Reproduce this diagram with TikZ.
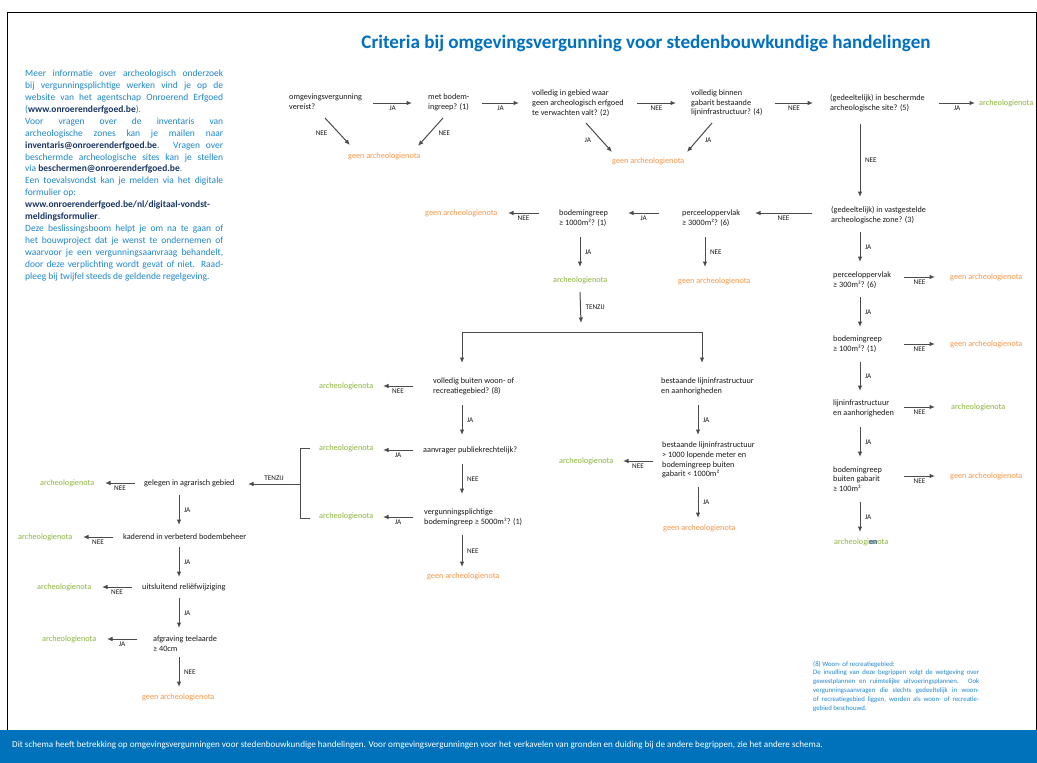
\documentclass[tikz,border=0pt]{standalone}
\usepackage{fontspec}
\setmainfont{Carlito}
\usetikzlibrary{arrows.meta,calc}
\definecolor{txt}{RGB}{25,25,25}
\definecolor{lnc}{RGB}{75,75,75}
\definecolor{blu}{RGB}{0,112,192}
\definecolor{bodyblue}{RGB}{30,135,205}
\definecolor{dkblue}{RGB}{25,55,100}
\definecolor{orng}{RGB}{247,150,70}
\definecolor{grn}{RGB}{140,180,60}
\definecolor{barblue}{RGB}{0,114,188}
\definecolor{hl}{RGB}{150,195,215}
\begin{document}
\begin{tikzpicture}[x=1pt,y=-1pt,
 q/.style={font=\fontsize{8.2}{9.8}\selectfont, align=left, inner sep=0pt, anchor=west, text=txt},
 geen/.style={font=\fontsize{8.2}{9.8}\selectfont, inner sep=0pt, anchor=west, text=orng},
 arch/.style={font=\fontsize{8.2}{9.8}\selectfont, inner sep=0pt, anchor=west, text=grn},
 arr/.style={draw=lnc, line width=1pt, -{Latex[length=5.5pt,width=4.5pt]}},
 ln/.style={draw=lnc, line width=1pt},
 lab/.style={font=\fontsize{7.2}{8}\selectfont, text=txt, inner sep=0pt},
 lb/.style={lab, midway, anchor=north, yshift=-2.5pt},
 lr/.style={lab, midway, anchor=west, xshift=4.5pt},
]
\useasboundingbox (0,0) rectangle (1037,763);
\fill[white] (0,0) rectangle (1037,763);
\draw[black, line width=1pt] (7,12) rectangle (1036.5,731);
\fill[barblue] (0,730) rectangle (1037,763);

% title
\node[font=\fontsize{19.1}{22}\selectfont\bfseries, text=blu, inner sep=0pt] (title) at (646,43) {Criteria bij omgevingsvergunning voor stedenbouwkundige handelingen};

% info text
\node[anchor=north west, inner sep=0pt, text width=198pt, align=justify, text=bodyblue,
 font=\fontsize{9.5}{11.9}\selectfont] (info) at (25,70)
{\hyphenpenalty=10000\relax Meer informatie over archeologisch onderzoek\linebreak bij vergunningsplichtige werken vind je op de\linebreak website van het agentschap Onroerend Erfgoed\linebreak (\textbf{\color{dkblue}www.onroerenderfgoed.be}).\par
Voor vragen over de inventaris van\linebreak archeologische zones kan je mailen naar\linebreak \textbf{\color{dkblue}inventaris@onroerenderfgoed.be}. Vragen over\linebreak beschermde archeologische sites kan je stellen\linebreak via \textbf{\color{dkblue}beschermen@onroerenderfgoed.be}.\par
Een toevalsvondst kan je melden via het digitale\linebreak formulier op:\par
\textbf{\color{dkblue}www.onroerenderfgoed.be/nl/digitaal-vondst-\linebreak meldingsformulier}.\par
Deze beslissingsboom helpt je om na te gaan of\linebreak het bouwproject dat je wenst te ondernemen of\linebreak waarvoor je een vergunningsaanvraag behandelt,\linebreak door deze verplichting wordt gevat of niet. Raad-\linebreak pleeg bij twijfel steeds de geldende regelgeving.};

% footnote
\node[anchor=north west, inner sep=0pt, text width=166pt, align=justify, text=bodyblue,
 font=\fontsize{6.8}{8.8}\selectfont] (note) at (813,661)
{\hyphenpenalty=10000\relax (8) Woon- of recreatiegebied:\par
De invulling van deze begrippen volgt de wetgeving over\linebreak gewestplannen en ruimtelijke uitvoeringsplannen. Ook\linebreak vergunningsaanvragen die slechts gedeeltelijk in woon-\linebreak of recreatiegebied liggen, worden als woon- of recreatie-\linebreak gebied beschouwd.};

% bottom bar text
\node[anchor=west, inner sep=0pt, text=white, font=\fontsize{9.1}{10}\selectfont] (foot) at (12,745)
{Dit schema heeft betrekking op omgevingsvergunningen voor stedenbouwkundige handelingen. Voor omgevingsvergunningen voor het verkavelen van gronden en duiding bij de andere begrippen, zie het andere schema.};

% ---------- nodes ----------
\node[q] (n1) at (289,102) {omgevingsvergunning\\vereist?};
\node[q] (n2) at (428,102) {met bodem-\\ingreep? (1)};
\node[q] (n3) at (532,103) {volledig in gebied waar\\geen archeologisch erfgoed\\te verwachten valt? (2)};
\node[q] (n4) at (691,103) {volledig binnen\\gabarit bestaande\\lijninfrastructuur? (4)};
\node[q] (n5) at (830,103) {(gedeeltelijk) in beschermde\\archeologische site? (5)};
\node[arch] (r1) at (979,103) {archeologienota};
\node[geen] (g1) at (348,156) {geen archeologienota};
\node[geen] (g2) at (612,161) {geen archeologienota};

\node[q] (n7) at (831,215) {(gedeeltelijk) in vastgestelde\\archeologische zone? (3)};
\node[q] (n8) at (682,218) {perceeloppervlak\\≥ 3000m²? (6)};
\node[q] (n9) at (559,218) {bodemingreep\\≥ 1000m²? (1)};
\node[geen] (g3) at (425,213) {geen archeologienota};
\node[arch] (r2) at (553,280) {archeologienota};
\node[geen] (g4) at (678,281) {geen archeologienota};

\node[q] (n10) at (833,280) {perceeloppervlak\\≥ 300m²? (6)};
\node[geen] (g5) at (950,277) {geen archeologienota};
\node[q] (n11) at (833,344) {bodemingreep\\≥ 100m²? (1)};
\node[geen] (g6) at (950,344) {geen archeologienota};
\node[q] (n12) at (833,408) {lijninfrastructuur\\en aanhorigheden};
\node[arch] (r3) at (951,407) {archeologienota};
\node[q] (n13) at (833,479) {bodemingreep\\buiten gabarit\\≥ 100m²};
\node[geen] (g7) at (950,476) {geen archeologienota};
\node[arch] (r4) at (834,542) {archeologi{\setlength\fboxsep{0pt}\colorbox{hl}{\color{black!70}en}}ota};

\node[q] (n14) at (433,386) {volledig buiten woon- of\\recreatiegebied? (8)};
\node[arch] (r5) at (319,386) {archeologienota};
\node[q] (n15) at (423,450) {aanvrager publiekrechtelijk?};
\node[arch] (r6) at (319,448) {archeologienota};
\node[q] (n16) at (424,517) {vergunningsplichtige\\bodemingreep ≥ 5000m²? (1)};
\node[arch] (r7) at (319,516) {archeologienota};
\node[geen] (g8) at (427,576) {geen archeologienota};

\node[q] (n17) at (661,386) {bestaande lijninfrastructuur\\en aanhorigheden};
\node[q] (n18) at (662,460) {bestaande lijninfrastructuur\\> 1000 lopende meter en\\bodemingreep buiten\\gabarit < 1000m²};
\node[arch] (r8) at (559,461) {archeologienota};
\node[geen] (g9) at (663,528) {geen archeologienota};

\node[q] (n19) at (144,483) {gelegen in agrarisch gebied};
\node[arch] (r9) at (40,483) {archeologienota};
\node[q] (n20) at (123,537) {kaderend in verbeterd bodembeheer};
\node[arch] (r10) at (18,537) {archeologienota};
\node[q] (n21) at (142,587) {uitsluitend reliëfwijziging};
\node[arch] (r11) at (37,587) {archeologienota};
\node[q] (n22) at (153,644) {afgraving teelaarde\\≥ 40cm};
\node[arch] (r12) at (42,639) {archeologienota};
\node[geen] (g10) at (142,697) {geen archeologienota};

\coordinate (barL) at (462,332);
\coordinate (barR) at (702,332);

% ---------- connectors ----------
% top row
\draw[arr] ($(n1.west)+(84,1)$) -- ($(n2.west)+(-16,1)$) node[lb]{JA};
\draw[arr] ($(n2.west)+(54,1)$) -- ($(n3.west)+(-13,0)$) node[lb]{JA};
\draw[arr] ($(n3.west)+(105,0)$) -- ($(n4.west)+(-15,0)$) node[lb]{NEE};
\draw[arr] ($(n4.west)+(84,0)$) -- ($(n5.west)+(-17,0)$) node[lb]{NEE};
\draw[arr] ($(n5.west)+(109,0)$) -- ($(r1.west)+(-4,0)$) node[lb]{JA};
% diagonals
\draw[arr] ($(n1.west)+(36,16)$) -- ($(g1.west)+(2,-11)$) node[lab, midway, anchor=east, xshift=-9.5pt, yshift=-1.5pt]{NEE};
\draw[arr] ($(n2.west)+(15,16)$) -- ($(g1.west)+(70,-10)$) node[lab, midway, anchor=west, xshift=7.5pt, yshift=-1pt]{NEE};
\draw[arr] ($(n3.west)+(54,20)$) -- ($(g2.west)+(0,-9)$) node[lab, midway, anchor=east, xshift=-7.5pt, yshift=-2.5pt]{JA};
\draw[arr] ($(n4.west)+(21,20)$) -- ($(g2.west)+(75,-9)$) node[lab, midway, anchor=west, xshift=5pt, yshift=-2.5pt]{JA};
% right column
\draw[arr] ($(n5.west)+(30,21)$) -- ($(n7.west)+(29,-18)$) node[lr]{NEE};
\draw[arr] ($(n7.west)+(29,17)$) -- ($(n10.west)+(27,-18)$) node[lr]{JA};
\draw[arr] ($(n10.west)+(71,-3)$) -- ($(g5.west)+(-15,0)$) node[lb]{NEE};
\draw[arr] ($(n10.west)+(27,17)$) -- ($(n11.west)+(27,-17)$) node[lr]{JA};
\draw[arr] ($(n11.west)+(71,0)$) -- ($(g6.west)+(-15,0)$) node[lb]{NEE};
\draw[arr] ($(n11.west)+(27,18)$) -- ($(n12.west)+(27,-17)$) node[lr]{JA};
\draw[arr] ($(n12.west)+(71,-1)$) -- ($(r3.west)+(-16,0)$) node[lb]{NEE};
\draw[arr] ($(n12.west)+(27,19)$) -- ($(n13.west)+(27,-22)$) node[lr]{JA};
\draw[arr] ($(n13.west)+(71,-3)$) -- ($(g7.west)+(-15,0)$) node[lb]{NEE};
\draw[arr] ($(n13.west)+(27,23)$) -- ($(r4.west)+(26,-10)$) node[lr]{JA};
% second row
\draw[arr] ($(n7.west)+(-19,-2)$) -- ($(n8.west)+(73,-5)$) node[lb]{NEE};
\draw[arr] ($(n8.west)+(-23,-5)$) -- ($(n9.west)+(69,-5)$) node[lb]{JA};
\draw[arr] ($(n9.west)+(-20,-5)$) -- ($(g3.west)+(83,0)$) node[lb]{NEE};
\draw[arr] ($(n9.west)+(21,19)$) -- ($(r2.west)+(27,-13)$) node[lr]{JA};
\draw[arr] ($(n8.west)+(23,19)$) -- ($(g4.west)+(27,-14)$) node[lr]{NEE};
\draw[arr] ($(r2.west)+(27,12)$) -- ($(r2.west)+(28,43)$) node[lr]{TENZIJ};
\draw[ln] (barL) -- (barR);
\draw[arr] (barL) -- ($(n14.west)+(29,-23)$);
\draw[arr] (barR) -- ($(n17.west)+(41,-23)$);
% middle left
\draw[arr] ($(n14.west)+(-20,0)$) -- ($(r5.west)+(64,0)$) node[lb]{NEE};
\draw[arr] ($(n14.west)+(29,19)$) -- ($(n15.west)+(39,-15)$) node[lr]{JA};
\draw[arr] ($(n15.west)+(-10,0)$) -- ($(r6.west)+(64,2)$) node[lb]{JA};
\draw[arr] ($(n15.west)+(39,14)$) -- ($(n16.west)+(38,-23)$) node[lr]{NEE};
\draw[arr] ($(n16.west)+(-11,0)$) -- ($(r7.west)+(64,1)$) node[lb]{JA};
\draw[arr] ($(n16.west)+(38,18)$) -- ($(g8.west)+(35,-9)$) node[lr]{NEE};
% middle right
\draw[arr] ($(n17.west)+(37,19)$) -- ($(n18.west)+(36,-25)$) node[lr]{JA};
\draw[arr] ($(n18.west)+(-9,1)$) -- ($(r8.west)+(64,0)$) node[lb]{NEE};
\draw[arr] ($(n18.west)+(36,27)$) -- ($(g9.west)+(35,-10)$) node[lr]{JA};
% bracket
\draw[ln] ($(r6.west)+(-9,0)$) -- ($(r6.west)+(-19,0)$) -- ($(r7.west)+(-19,2)$) -- ($(r7.west)+(-9,2)$);
\draw[arr] ($(r6.west)!0.5!(r7.west)+(-19,2)$) -- ($(n19.west)+(104,1)$) node[lab, midway, anchor=south, yshift=3pt]{TENZIJ};
% bottom-left chain
\draw[arr] ($(n19.west)+(-9,0)$) -- ($(r9.west)+(65,0)$) node[lb]{NEE};
\draw[arr] ($(n19.west)+(35,12)$) -- ($(n20.west)+(56,-12)$) node[lr]{JA};
\draw[arr] ($(n20.west)+(-10,0)$) -- ($(r10.west)+(65,0)$) node[lb]{NEE};
\draw[arr] ($(n20.west)+(56,10)$) -- ($(n21.west)+(37,-10)$) node[lr]{JA};
\draw[arr] ($(n21.west)+(-10,0)$) -- ($(r11.west)+(65,0)$) node[lb]{NEE};
\draw[arr] ($(n21.west)+(37,11)$) -- ($(n22.west)+(26,-16)$) node[lr]{JA};
\draw[arr] ($(n22.west)+(-16,-5)$) -- ($(r12.west)+(65,0)$) node[lb]{JA};
\draw[arr] ($(n22.west)+(26,13)$) -- ($(g10.west)+(37,-10)$) node[lr]{NEE};
\end{tikzpicture}
\end{document}
